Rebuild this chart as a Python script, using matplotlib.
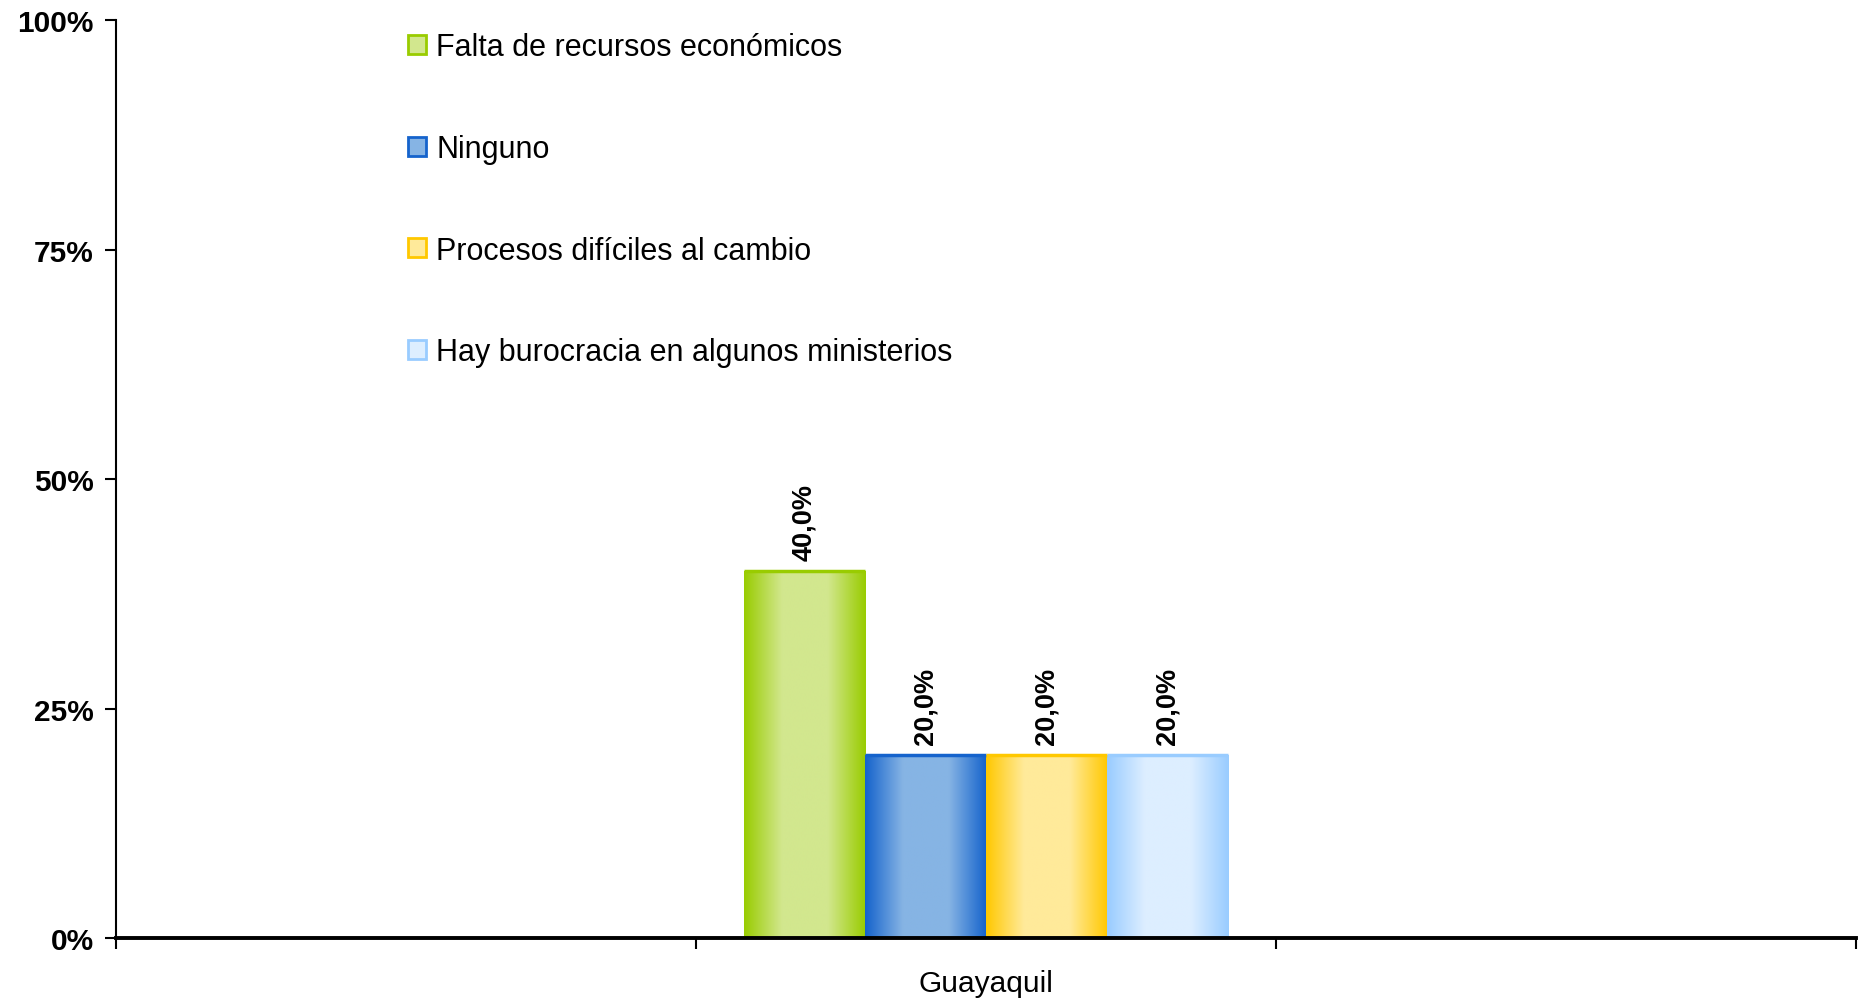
import numpy as np
import matplotlib
matplotlib.use("Agg")
import matplotlib.pyplot as plt
from matplotlib.colors import LinearSegmentedColormap
from matplotlib.patches import Rectangle

plt.rcParams["font.family"] = ["Liberation Sans", "DejaVu Sans"]

# ── data ─────────────────────────────────────────────
category = "Guayaquil"
series = ["Falta de recursos económicos",
          "Ninguno",
          "Procesos difíciles al cambio",
          "Hay burocracia en algunos ministerios"]
values = [40.0, 20.0, 20.0, 20.0]
labels = ["40,0%", "20,0%", "20,0%", "20,0%"]

# (edge colour, light centre colour)
colors = [("#99CC00", "#D2E78E"),
          ("#1563CC", "#86B4E4"),
          ("#FFC800", "#FFEA9A"),
          ("#99CCFF", "#DDEEFF")]

y_ticks = [0, 25, 50, 75, 100]

# ── figure ───────────────────────────────────────────
fig = plt.figure(figsize=(18.63, 10.04), dpi=100)
ax = fig.add_axes([0.0623, 0.0645, 0.9339, 0.9143])

w = 0.209
n = len(values)
grad = np.linspace(0, 1, 256)
grad = 1 - np.abs(grad - 0.5) * 2          # 0 at edges, 1 in the centre
grad = np.clip(grad * 1.6, 0, 1)[None, :]

for i, (v, (edge, light)) in enumerate(zip(values, colors)):
    x = (i - (n - 1) / 2) * w
    bar = ax.bar(x, v, width=w, color="none", edgecolor="none", zorder=2)[0]
    cmap = LinearSegmentedColormap.from_list(f"g{i}", [edge, light])
    im = ax.imshow(grad, cmap=cmap, aspect="auto", zorder=2,
                   extent=[x - w / 2, x + w / 2, 0, v], interpolation="bilinear")
    im.set_clip_path(bar)
    ax.plot([x - w / 2, x + w / 2], [v, v], color=edge, lw=2.5, zorder=3,
            solid_capstyle="butt")
    ax.annotate(labels[i], (x, v), xytext=(0, 8), textcoords="offset points",
                rotation=90, ha="center", va="bottom",
                fontsize=19.5, fontweight="bold")

ax.set_xlim(-1.5, 1.5)
ax.set_ylim(0, 100)

ax.set_yticks(y_ticks)
ax.set_yticklabels([f"{t}%" for t in y_ticks], fontsize=21.5, fontweight="bold")
ax.tick_params(axis="y", length=8, width=1.5, pad=8)

ax.set_xticks([0])
ax.set_xticklabels([category], fontsize=21.5)
ax.tick_params(axis="x", which="major", length=0, pad=22)
ax.set_xticks([-1.5, -0.5, 0.5, 1.5], minor=True)
ax.tick_params(axis="x", which="minor", length=8, width=1.5)

for s in ["top", "right"]:
    ax.spines[s].set_visible(False)
ax.spines["left"].set_linewidth(1.5)
ax.spines["bottom"].set_linewidth(2.8)
ax.spines["bottom"].set_zorder(4)

handles = [Rectangle((0, 0), 1, 1, facecolor=light, edgecolor=edge, lw=2)
           for edge, light in colors]
ax.legend(handles, series, loc="upper left", frameon=False,
          bbox_to_anchor=(408 / 1863, 1 - 33 / 1004),
          bbox_transform=fig.transFigure, fontsize=22,
          handlelength=0.58, handleheight=0.58, handletextpad=0.35,
          labelspacing=2.35, borderpad=0, borderaxespad=0)

fig.savefig("out.png", dpi=100, facecolor="white")
